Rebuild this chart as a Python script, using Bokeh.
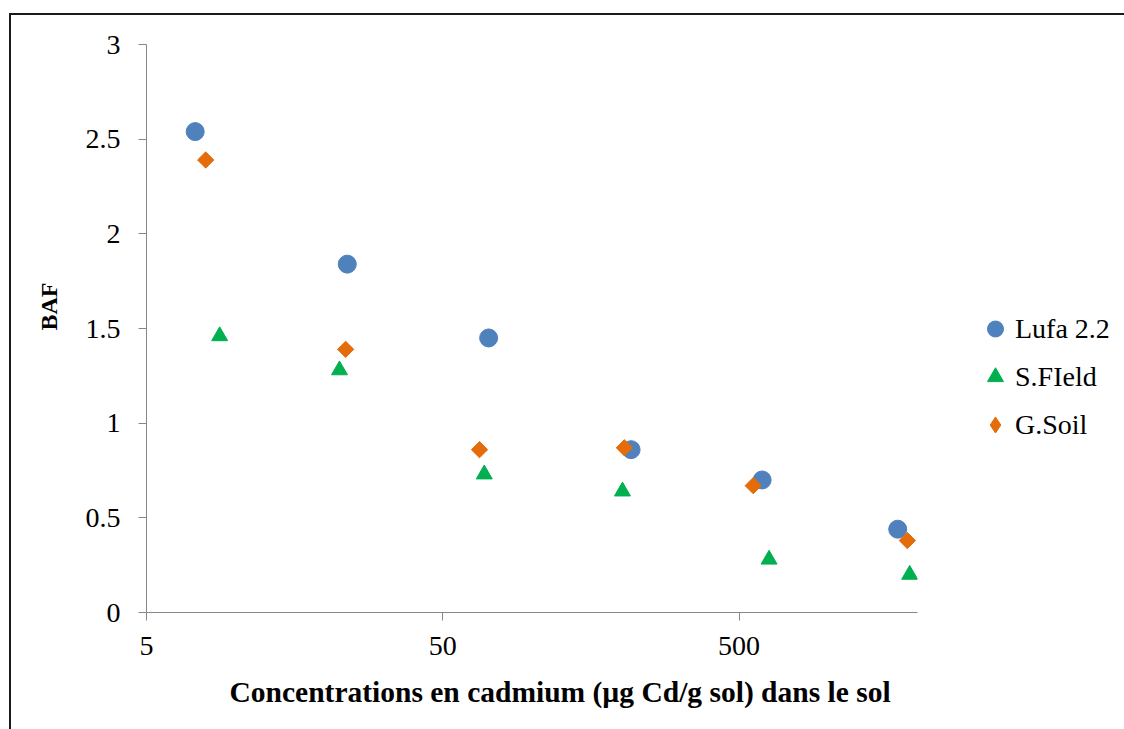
import numpy as np
from bokeh.plotting import figure
from bokeh.models import (FixedTicker, CustomJSTickFormatter, Legend, LegendItem,
                          Title, Range1d)
from bokeh.embed import file_html
from bokeh.resources import INLINE

# ---- data ----
series_names = ["Lufa 2.2", "S.FIeld", "G.Soil"]
lufa_x = [7.3, 23.8, 71.4, 216, 598, 1715]
lufa_y = [2.54, 1.84, 1.45, 0.86, 0.70, 0.44]
sfield_x = [8.83, 22.4, 69, 202, 631, 1882]
sfield_y = [1.46, 1.28, 0.73, 0.64, 0.28, 0.20]
gsoil_x = [7.92, 23.5, 66.5, 205, 558, 1848]
gsoil_y = [2.39, 1.39, 0.86, 0.87, 0.67, 0.38]
x_ticks = [5, 50, 500]
y_ticks = [0, 0.5, 1, 1.5, 2, 2.5, 3]
x_title = "Concentrations en cadmium (µg Cd/g sol) dans le sol"
y_title = "BAF"

FONT = "Liberation Serif"
AXIS_GREY = "#868686"
BLUE, GREEN, ORANGE = "#4F81BD", "#00B050", "#E46C0A"

p = figure(x_axis_type="log", x_range=Range1d(5, 2000), y_range=Range1d(0, 3),
           frame_width=771, frame_height=568,
           min_border_left=135, min_border_top=29, min_border_right=207, min_border_bottom=117,
           output_backend="svg", toolbar_location=None)
p.styles = {"margin-left": "9px", "margin-top": "13px",
            "border-left": "2px solid #1a1a1a", "border-top": "2px solid #1a1a1a"}

p.outline_line_color = None
p.xgrid.visible = False
p.ygrid.visible = False
p.background_fill_color = "white"
p.border_fill_color = "white"

fmt = CustomJSTickFormatter(code="return tick.toString();")
for ax in (p.xaxis[0], p.yaxis[0]):
    ax.axis_line_color = AXIS_GREY
    ax.axis_line_width = 1
    ax.major_tick_line_color = AXIS_GREY
    ax.major_tick_out = 8
    ax.major_tick_in = 0
    ax.minor_tick_line_color = None
    ax.major_label_text_font = FONT
    ax.major_label_text_font_size = "28px"
    ax.major_label_text_color = "black"
    ax.formatter = fmt

p.xaxis[0].ticker = FixedTicker(ticks=x_ticks, minor_ticks=[])
p.yaxis[0].ticker = FixedTicker(ticks=y_ticks, minor_ticks=[])
p.xaxis[0].major_label_standoff = 16
p.yaxis[0].major_label_standoff = 18

r1 = p.scatter(lufa_x, lufa_y, marker="circle", size=18, color=BLUE)
r2 = p.scatter(sfield_x, sfield_y, marker="triangle", size=16, color=GREEN)
r3 = p.scatter(gsoil_x, gsoil_y, marker="square", angle=np.pi / 4, size=11.5, color=ORANGE)
# legend-only glyph for the diamond (legend swatches ignore the marker angle)
r3_key = p.scatter([1.0], [-1.0], marker="diamond", size=16, color=ORANGE)

legend = Legend(items=[LegendItem(label=series_names[0], renderers=[r1]),
                       LegendItem(label=series_names[1], renderers=[r2]),
                       LegendItem(label=series_names[2], renderers=[r3_key])],
                location=(58, 166), orientation="vertical",
                glyph_width=40, glyph_height=43, label_standoff=0, spacing=5,
                padding=0, margin=0, border_line_color=None, background_fill_alpha=0,
                label_text_font=FONT, label_text_font_size="28px", label_text_color="black")
p.add_layout(legend, "right")

p.add_layout(Title(text=x_title, align="left", offset=83, standoff=33,
                   text_font=FONT, text_font_size="29.5px", text_font_style="bold",
                   text_color="black"), "below")
p.add_layout(Title(text=y_title, align="left", offset=282, standoff=42,
                   text_font=FONT, text_font_size="24px", text_font_style="bold",
                   text_color="black"), "left")

open("out.html", "w").write(file_html(p, INLINE))
